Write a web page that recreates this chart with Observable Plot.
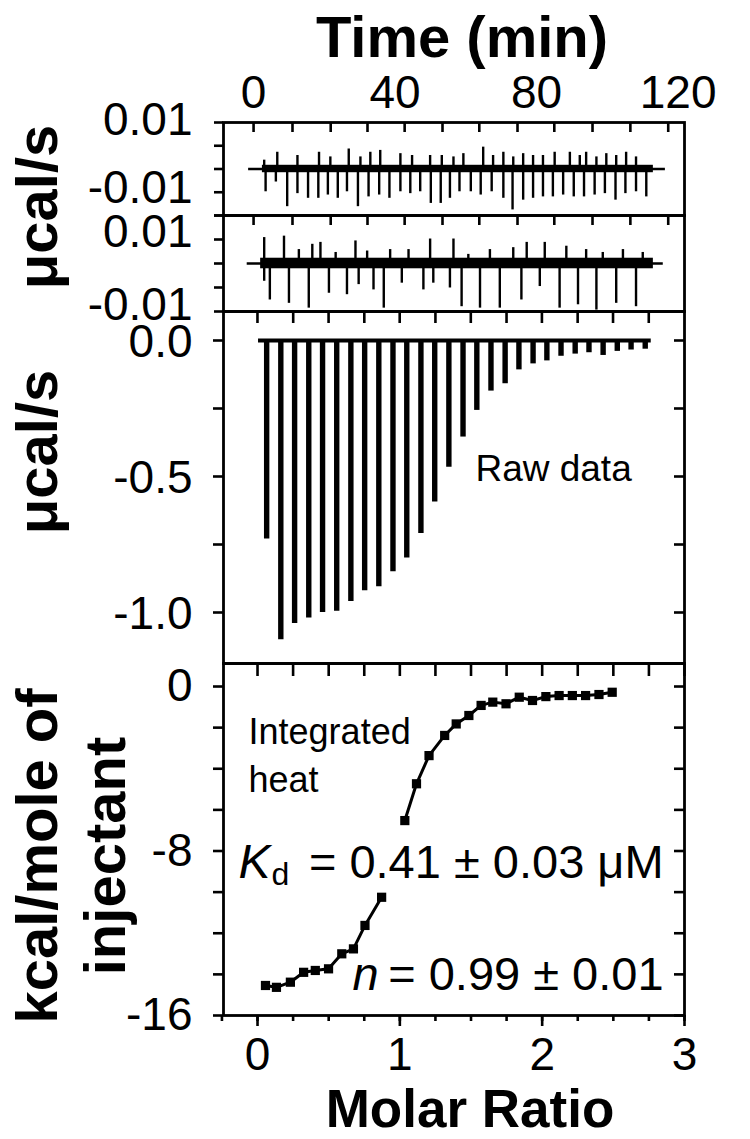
<!DOCTYPE html>
<html><head><meta charset="utf-8">
<script src="https://cdn.jsdelivr.net/npm/d3@7"></script>
<script src="https://cdn.jsdelivr.net/npm/@observablehq/plot@0.6"></script>
<style>
body{margin:0;background:#fff;}
#wrap{position:relative;width:750px;height:1139px;overflow:hidden;background:#fff;}
#wrap svg{position:absolute;left:0;}
</style></head><body><div id="wrap"></div>
<script>
// ---------- data ----------
const timeDomain = [-8.5, 121.8];
const timeTickLabels = [0, 40, 80, 120];
const noiseTickTimes = [0, 11.0, 21.8, 32.2, 42.7, 53.4, 63.8, 74.6, 85.0, 95.8, 106.5, 117.2];
const rawTickTimes = [1.1, 11.2, 21.2, 31.3, 41.3, 51.4, 61.4, 71.5, 81.5, 91.6, 101.6, 111.7];
const noiseYTicks = [-0.01, -0.005, 0, 0.005, 0.01];

// panel 1 (control titration noise)
const trace1Span = [-1.4, 116.4];
const band1Span = [2.5, 113];
const band1Amp = 0.0008;
const down1Time = [3.4,6.3,9.5,12.4,15.4,18.3,21.0,23.8,26.4,29.5,32.5,35.5,38.4,41.5,44.3,47.1,50.1,52.9,55.5,58.2,61.4,64.2,67.3,70.6,73.2,76.2,79.0,81.8,84.6,87.5,90.5,93.4,96.4,99.3,102.3,105.1,108.1,111.0];
const down1Val = [-0.0049,-0.0028,-0.0081,-0.0053,-0.0063,-0.0063,-0.0056,-0.0063,-0.0049,-0.0081,-0.006,-0.0056,-0.0063,-0.0049,-0.0053,-0.0049,-0.0074,-0.0074,-0.0063,-0.0049,-0.0049,-0.0056,-0.0049,-0.0063,-0.0088,-0.0067,-0.0063,-0.006,-0.006,-0.0056,-0.006,-0.006,-0.0056,-0.0053,-0.0067,-0.0053,-0.0049,-0.006];
const up1Time = [3.0,6.7,12.4,18.5,21.7,26.9,30.2,33.0,35.8,41.5,44.8,49.9,53.2,56.5,59.3,64.9,67.7,70.6,73.4,76.2,79.0,81.8,85.1,89.4,92.2,94.0,96.9,99.7,102.5,105.3,108.1];
const up1Val = [0.0019,0.0036,0.0029,0.0036,0.0026,0.0043,0.0026,0.0036,0.004,0.0033,0.0029,0.0029,0.0029,0.0026,0.0033,0.0047,0.0029,0.0036,0.0026,0.0033,0.0029,0.0029,0.0036,0.0036,0.0029,0.0036,0.0026,0.0033,0.0029,0.0036,0.0026];

// panel 2 (second control noise)
const trace2Span = [-1.8, 115.8];
const band2Span = [2.0, 113];
const band2Amp = 0.0011;
const down2Time = [3.0,4.6,10.0,15.6,21.3,26.4,29.7,33.9,36.8,41.9,48.0,50.8,55.5,58.8,64.0,69.6,75.7,80.9,86.5,91.7,96.9,102.5,108.1];
const down2Val = [-0.0037,-0.0076,-0.0083,-0.0093,-0.0062,-0.0065,-0.0044,-0.0055,-0.0093,-0.0041,-0.0055,-0.0041,-0.0051,-0.009,-0.0093,-0.0093,-0.0076,-0.0048,-0.0093,-0.0086,-0.0097,-0.0083,-0.009];
const up2Time = [3.0,8.6,12.8,16.6,18.9,23.2,28.8,32.1,38.6,43.8,49.9,56.5,60.7,66.8,73.4,77.2,82.3,88.4,94.0,98.7,104.4,110.0];
const up2Val = [0.0054,0.0057,0.0029,0.004,0.0044,0.0023,0.0047,0.0026,0.0029,0.0029,0.0051,0.0051,0.0019,0.0029,0.0033,0.0044,0.0044,0.0036,0.0029,0.0023,0.0029,0.0023];

// panel 3 (raw data)
const rawSpan = [1.4, 112.4];
const injTime = [3.7,7.7,11.6,15.6,19.5,23.5,27.5,31.4,35.4,39.4,43.3,47.3,51.2,55.2,59.2,63.1,67.1,71.1,75.0,79.0,82.9,86.9,90.9,94.8,98.8,102.8,106.7,110.7];
const peakDepth = [-0.73,-1.10,-1.04,-1.02,-1.00,-0.995,-0.96,-0.92,-0.905,-0.85,-0.80,-0.71,-0.594,-0.466,-0.355,-0.257,-0.186,-0.159,-0.108,-0.086,-0.075,-0.058,-0.05,-0.045,-0.055,-0.04,-0.035,-0.032];
const rawYTicks = [0, -0.25, -0.5, -0.75, -1.0];
const rawYLabels = [0, -0.5, -1.0];

// panel 4 (integrated heat)
const ratio1 = [0.056,0.133,0.231,0.324,0.406,0.499,0.592,0.674,0.755,0.872];
const heat1 = [-14.54,-14.63,-14.38,-13.9,-13.81,-13.73,-13.0,-12.76,-11.62,-10.25];
const ratio2 = [1.035,1.117,1.205,1.315,1.396,1.485,1.571,1.653,1.746,1.839,1.932,2.026,2.119,2.212,2.305,2.399,2.492];
const heat2 = [-6.52,-4.73,-3.36,-2.38,-1.82,-1.41,-0.92,-0.76,-0.84,-0.52,-0.68,-0.49,-0.44,-0.44,-0.44,-0.39,-0.28];
const ratioMinorTicks = [-0.25,0,0.25,0.5,0.75,1,1.25,1.5,1.75,2,2.25,2.5,2.75,3];
const ratioMajorTicks = [0, 1, 2, 3];
const heatTicks = [0,-2,-4,-6,-8,-10,-12,-14,-16];
const heatLabels = [0, -8, -16];

// ---------- helpers ----------
const FONT = "'Liberation Sans', Arial, Helvetica, sans-serif";
const STYLE = `background: transparent; overflow: visible; font-family: ${FONT}; color: black;`;
const wrap = document.getElementById("wrap");
function place(svg, top) { svg.style.position = "absolute"; svg.style.left = "0px"; svg.style.top = top + "px"; wrap.appendChild(svg); }
const zip = (a, b, ka, kb) => a.map((v, i) => ({[ka]: v, [kb]: b[i]}));
const TW = 2.6; // tick stroke
const FW = 2.8; // frame stroke

function noisePanel(opts) {
  const {frameTop, frameH, span, bandSpan, bandAmp, downT, downV, upT, upV, labelTopDy, labelBotDy, withTimeAxis} = opts;
  const mt = withTimeAxis ? frameTop : 40;
  const mb = 40;
  const spikes = zip(downT, downV, "t", "v").concat(zip(upT, upV, "t", "v"));
  const marks = [
    Plot.ruleY([0], {x1: span[0], x2: span[1], strokeWidth: 2.6}),
    Plot.rect([{a: bandSpan[0], b: bandSpan[1]}], {x1: "a", x2: "b", y1: -bandAmp, y2: bandAmp, fill: "black"}),
    Plot.ruleX(spikes, {x: "t", y1: 0, y2: "v", strokeWidth: 2.4}),
    Plot.frame({strokeWidth: FW}),
    Plot.axisX(noiseTickTimes, {anchor: "top", tickSize: 9, dy: 9, fill: "none", label: null, strokeWidth: TW}),
    Plot.axisY(noiseYTicks, {anchor: "left", tickSize: 9, fill: "none", label: null, strokeWidth: TW}),
    Plot.axisY([0.01], {anchor: "left", tickSize: 0, tickPadding: 31, fontSize: 46, dy: labelTopDy, tickFormat: d => d.toFixed(2), label: null}),
    Plot.axisY([-0.01], {anchor: "left", tickSize: 0, tickPadding: 31, fontSize: 46, dy: labelBotDy, tickFormat: d => d.toFixed(2), label: null})
  ];
  if (withTimeAxis) marks.push(Plot.axisX(timeTickLabels, {anchor: "top", tickSize: 0, tickPadding: 15, fontSize: 46, tickFormat: d => String(d), label: null}));
  const svg = Plot.plot({
    width: 750, height: mt + frameH + mb,
    marginLeft: 223, marginRight: 66, marginTop: mt, marginBottom: mb,
    style: STYLE,
    x: {domain: timeDomain},
    y: {domain: [-0.01, 0.01]},
    marks
  });
  place(svg, frameTop - mt);
}

// panel 1: frame 122..215
noisePanel({frameTop: 122, frameH: 93, span: trace1Span, bandSpan: band1Span, bandAmp: band1Amp,
  downT: down1Time, downV: down1Val, upT: up1Time, upV: up1Val, labelTopDy: -2, labelBotDy: -27, withTimeAxis: true});
// panel 2: frame 215..311
noisePanel({frameTop: 215, frameH: 96, span: trace2Span, bandSpan: band2Span, bandAmp: band2Amp,
  downT: down2Time, downV: down2Val, upT: up2Time, upV: up2Val, labelTopDy: 17, labelBotDy: -6, withTimeAxis: false});

// panel 3: frame 311..663
{
  const peaks = zip(injTime, peakDepth, "t", "v");
  const svg = Plot.plot({
    width: 750, height: 40 + 352 + 40,
    marginLeft: 223, marginRight: 66, marginTop: 40, marginBottom: 40,
    style: STYLE,
    x: {domain: timeDomain},
    y: {domain: [-1.1875, 0.1066]},
    marks: [
      Plot.ruleY([0], {x1: rawSpan[0], x2: rawSpan[1], strokeWidth: 3.8}),
      Plot.ruleX(peaks, {x: "t", y1: 0, y2: "v", strokeWidth: 5.4}),
      Plot.text(["Raw data"], {x: 62.7, y: -0.474, textAnchor: "start", lineAnchor: "middle", fontSize: 37}),
      Plot.frame({strokeWidth: FW}),
      Plot.axisX(rawTickTimes, {anchor: "top", tickSize: 11, dy: 11, fill: "none", label: null, strokeWidth: TW}),
      Plot.axisY(rawYTicks, {anchor: "left", tickSize: 10, fill: "none", label: null, strokeWidth: TW}),
      Plot.axisY(rawYTicks, {anchor: "right", tickSize: 11, dx: -11, fill: "none", label: null, strokeWidth: TW}),
      Plot.axisY(rawYLabels, {anchor: "left", tickSize: 0, tickPadding: 31, fontSize: 46, dy: 2, tickFormat: d => d.toFixed(1), label: null})
    ]
  });
  place(svg, 311 - 40);
}

// panel 4: frame 663..1015
{
  const seg1 = zip(ratio1, heat1, "r", "h");
  const seg2 = zip(ratio2, heat2, "r", "h");
  const pts = seg1.concat(seg2);
  const svg = Plot.plot({
    width: 750, height: 40 + 352 + 124,
    marginLeft: 223, marginRight: 66, marginTop: 40, marginBottom: 124,
    style: STYLE,
    x: {domain: [-0.239, 3]},
    y: {domain: [-16, 1.119]},
    marks: [
      Plot.line(seg1, {x: "r", y: "h", strokeWidth: 3}),
      Plot.line(seg2, {x: "r", y: "h", strokeWidth: 3}),
      Plot.dot(pts, {x: "r", y: "h", symbol: "square", r: 5.2, fill: "black", stroke: "none"}),
      Plot.text(["Integrated\nheat"], {x: -0.063, y: -1.167, textAnchor: "start", lineAnchor: "top", fontSize: 36, lineHeight: 1.33}),
      Plot.text(["K"], {x: -0.1335, y: -9.289, textAnchor: "start", lineAnchor: "bottom", fontSize: 48, fontStyle: "italic"}),
      Plot.text(["d"], {x: -0.1335, y: -9.289, dx: 33, dy: 7, textAnchor: "start", lineAnchor: "bottom", fontSize: 32}),
      Plot.text(["= 0.41 \u00b1 0.03 \u03bcM"], {x: 2.853, y: -9.289, textAnchor: "end", lineAnchor: "bottom", fontSize: 47}),
      Plot.text(["n"], {x: 0.667, y: -14.784, textAnchor: "start", lineAnchor: "bottom", fontSize: 47, fontStyle: "italic"}),
      Plot.text(["= 0.99 \u00b1 0.01"], {x: 2.853, y: -14.784, textAnchor: "end", lineAnchor: "bottom", fontSize: 47}),
      Plot.frame({strokeWidth: FW}),
      Plot.axisX(ratioMinorTicks.filter(d => d >= 0), {anchor: "top", tickSize: 12, dy: 12, fill: "none", label: null, strokeWidth: TW}),
      Plot.axisX(ratioMinorTicks, {anchor: "bottom", tickSize: 6, fill: "none", label: null, strokeWidth: TW}),
      Plot.axisX(ratioMajorTicks, {anchor: "bottom", tickSize: 11, fill: "none", label: null, strokeWidth: TW}),
      Plot.axisX(ratioMajorTicks, {anchor: "bottom", tickSize: 0, tickPadding: 22, fontSize: 46, tickFormat: d => String(d), label: null}),
      Plot.axisY(heatTicks, {anchor: "left", tickSize: 10, fill: "none", label: null, strokeWidth: TW}),
      Plot.axisY(heatTicks, {anchor: "right", tickSize: 11, dx: -11, fill: "none", label: null, strokeWidth: TW}),
      Plot.axisY(heatLabels, {anchor: "left", tickSize: 0, tickPadding: 31, fontSize: 46, tickFormat: d => String(d), label: null})
    ]
  });
  place(svg, 663 - 40);
}

// ---------- axis titles ----------
{
  const svg = d3.create("svg").attr("width", 750).attr("height", 1139)
    .style("position", "absolute").style("left", "0px").style("top", "0px")
    .attr("font-family", "Liberation Sans, Arial, sans-serif").attr("font-weight", "bold").attr("font-size", 58);
  svg.append("text").attr("x", 462).attr("y", 57).attr("text-anchor", "middle").text("Time (min)");
  svg.append("text").attr("x", 470).attr("y", 1127).attr("text-anchor", "middle").attr("font-size", 53).text("Molar Ratio");
  svg.append("text").attr("transform", "translate(57,207) rotate(-90)").attr("text-anchor", "middle").text("\u03bccal/s");
  svg.append("text").attr("transform", "translate(57,452) rotate(-90)").attr("text-anchor", "middle").text("\u03bccal/s");
  svg.append("text").attr("transform", "translate(57,856) rotate(-90)").attr("text-anchor", "middle").text("kcal/mole of");
  svg.append("text").attr("transform", "translate(125,856) rotate(-90)").attr("text-anchor", "middle").text("injectant");
  wrap.appendChild(svg.node());
}
</script></body></html>
